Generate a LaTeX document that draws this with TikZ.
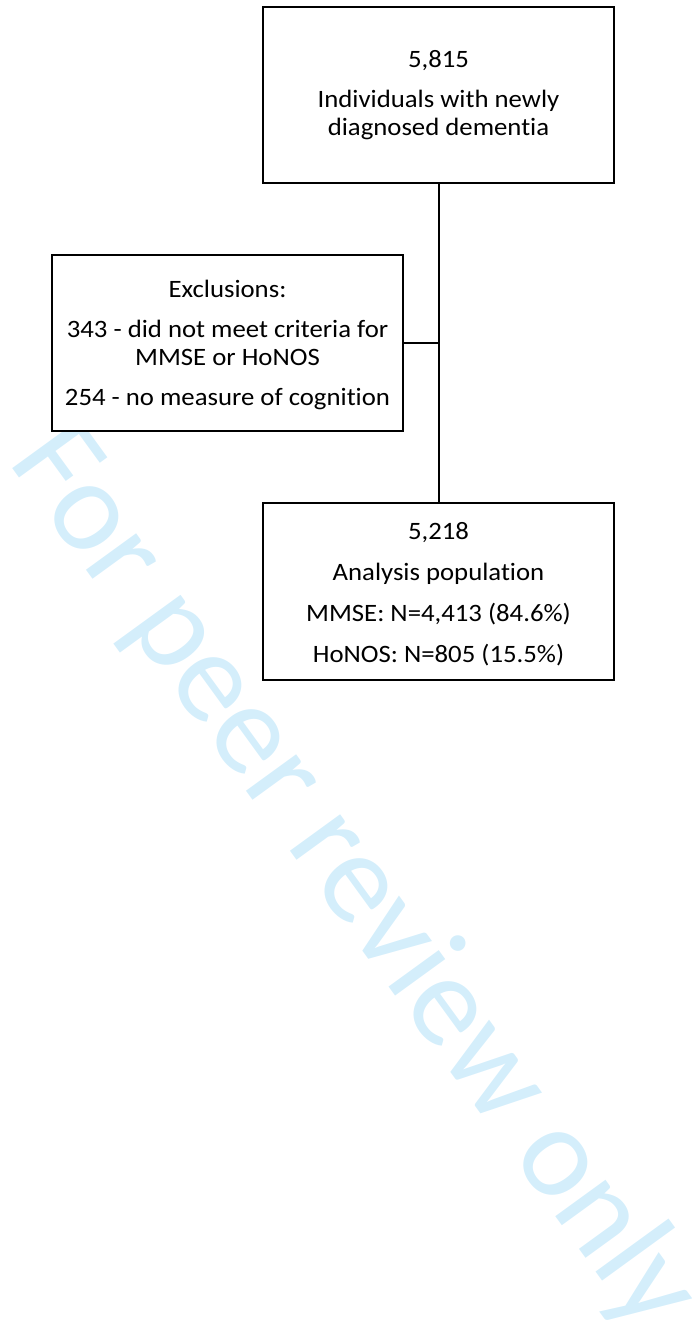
\documentclass[tikz,border=0pt]{standalone}
\usepackage{fontspec}
\setmainfont{Carlito}[Ligatures=NoCommon, FakeStretch=1.07]
\newfontfamily\wmfont{Carlito}[Ligatures=NoCommon]
\definecolor{wmblue}{RGB}{212,238,251}
\tikzset{
  x=1pt, y=1pt,
  flowbox/.style={draw=black, line width=2pt, fill=white, minimum width=351pt,
    minimum height=176pt, align=center, inner sep=0pt,
    font=\fontsize{25}{28}\selectfont},
  link/.style={draw=black, line width=2pt},
}
\begin{document}
\begin{tikzpicture}
\useasboundingbox (0,0) rectangle (692,-1326);
% watermark across the page
\node[text=wmblue, rotate=-54, anchor=base, inner sep=0pt,
      font=\wmfont\fontsize{130}{130}\selectfont] (wm) at (325,-899) {For peer review only};
% boxes
\node[flowbox] (total) at (438.5,-95) {5,815\\[12pt]Individuals with newly\\diagnosed dementia};
\node[flowbox] (excl) at (227.5,-343) {\rule{0pt}{22pt}Exclusions:\\[12pt]343 - did not meet criteria for\\MMSE or HoNOS\\[12pt]254 - no measure of cognition};
\node[flowbox, minimum height=177pt] (analysis) at (438.5,-591.5) {\rule{0pt}{22pt}5,218\\[13pt]Analysis population\\[13pt]MMSE: N=4,413 (84.6\%)\\[13pt]HoNOS: N=805 (15.5\%)};
% connectors
\draw[link] (total.south) -- (analysis.north);
\draw[link] (excl.east) -- (excl.east -| total.south);
\end{tikzpicture}
\end{document}
